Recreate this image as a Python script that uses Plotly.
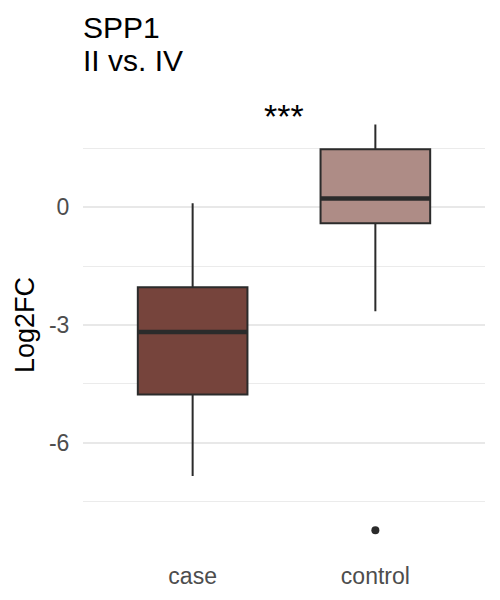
import plotly.graph_objects as go

categories = ["case", "control"]
positions = [1, 2]
lower_whisker = [-6.84, -2.65]
q1 = [-4.77, -0.41]
median = [-3.18, 0.22]
q3 = [-2.04, 1.47]
upper_whisker = [0.10, 2.10]
fills = ["#76443C", "#AE8C86"]
outlier_cat = [2]
outlier_val = [-8.22]
sig_label = "***"
sig_x = 1.5
sig_y = 2.33
title_lines = ["SPP1", "II vs. IV"]
y_ticks = [-6, -3, 0]
y_minor = [-7.5, -4.5, -1.5, 1.5]

BOX_W = 0.6
EDGE = "#2B2B2B"
FONT = "Liberation Sans, Arial, Helvetica, sans-serif"
W, H = 500, 600
L, R, T, B = 83, 15, 99, 49
PH = H - T - B

def paper_y(pix):
    return (H - B - pix) / PH

fig = go.Figure()
for i in range(len(categories)):
    fig.add_trace(go.Box(
        x=[positions[i]], q1=[q1[i]], median=[median[i]], q3=[q3[i]],
        lowerfence=[lower_whisker[i]], upperfence=[upper_whisker[i]],
        fillcolor=fills[i], line=dict(color=EDGE, width=2),
        width=BOX_W, whiskerwidth=0, boxpoints=False, showlegend=False,
        hoverinfo="skip",
    ))
    fig.add_trace(go.Scatter(
        x=[positions[i] - BOX_W / 2, positions[i] + BOX_W / 2],
        y=[median[i], median[i]], mode="lines",
        line=dict(color=EDGE, width=4.5), showlegend=False, hoverinfo="skip",
    ))

fig.add_trace(go.Scatter(
    x=outlier_cat, y=outlier_val, mode="markers",
    marker=dict(color=EDGE, size=8), showlegend=False, hoverinfo="skip",
))

fig.add_annotation(x=sig_x, y=sig_y, text=sig_label, showarrow=False,
                   xref="x", yref="y", yanchor="middle",
                   font=dict(size=34, color="black", family=FONT))

for line_text, base in zip(title_lines, [40, 73]):
    fig.add_annotation(x=-0.006, y=paper_y(base), xref="paper", yref="paper",
                       text=line_text, showarrow=False, xanchor="left",
                       yanchor="bottom", yshift=-6,
                       font=dict(size=30, color="black", family=FONT))

fig.update_layout(
    width=W, height=H,
    margin=dict(l=L, r=R, t=T, b=B),
    paper_bgcolor="white", plot_bgcolor="white",
    font=dict(family=FONT, color="#4D4D4D"),
    xaxis=dict(range=[0.4, 2.6], tickvals=positions, ticktext=categories,
               showgrid=False, zeroline=False, showline=False,
               ticks="outside", ticklen=4, tickcolor="rgba(0,0,0,0)",
               tickfont=dict(size=23, color="#4D4D4D")),
    yaxis=dict(range=[-8.75, 2.75], tickvals=y_ticks,
               ticktext=[str(v) for v in y_ticks],
               showgrid=True, gridcolor="#E8E8E8", gridwidth=2,
               zeroline=False, showline=False,
               ticks="outside", ticklen=8, tickcolor="rgba(0,0,0,0)",
               tickfont=dict(size=23, color="#4D4D4D"),
               minor=dict(tickvals=y_minor, showgrid=True,
                          gridcolor="#EBEBEB", gridwidth=1),
               title=dict(text="Log2FC", font=dict(size=27, color="black"),
                          standoff=6)),
)
fig.write_html("out.html")
